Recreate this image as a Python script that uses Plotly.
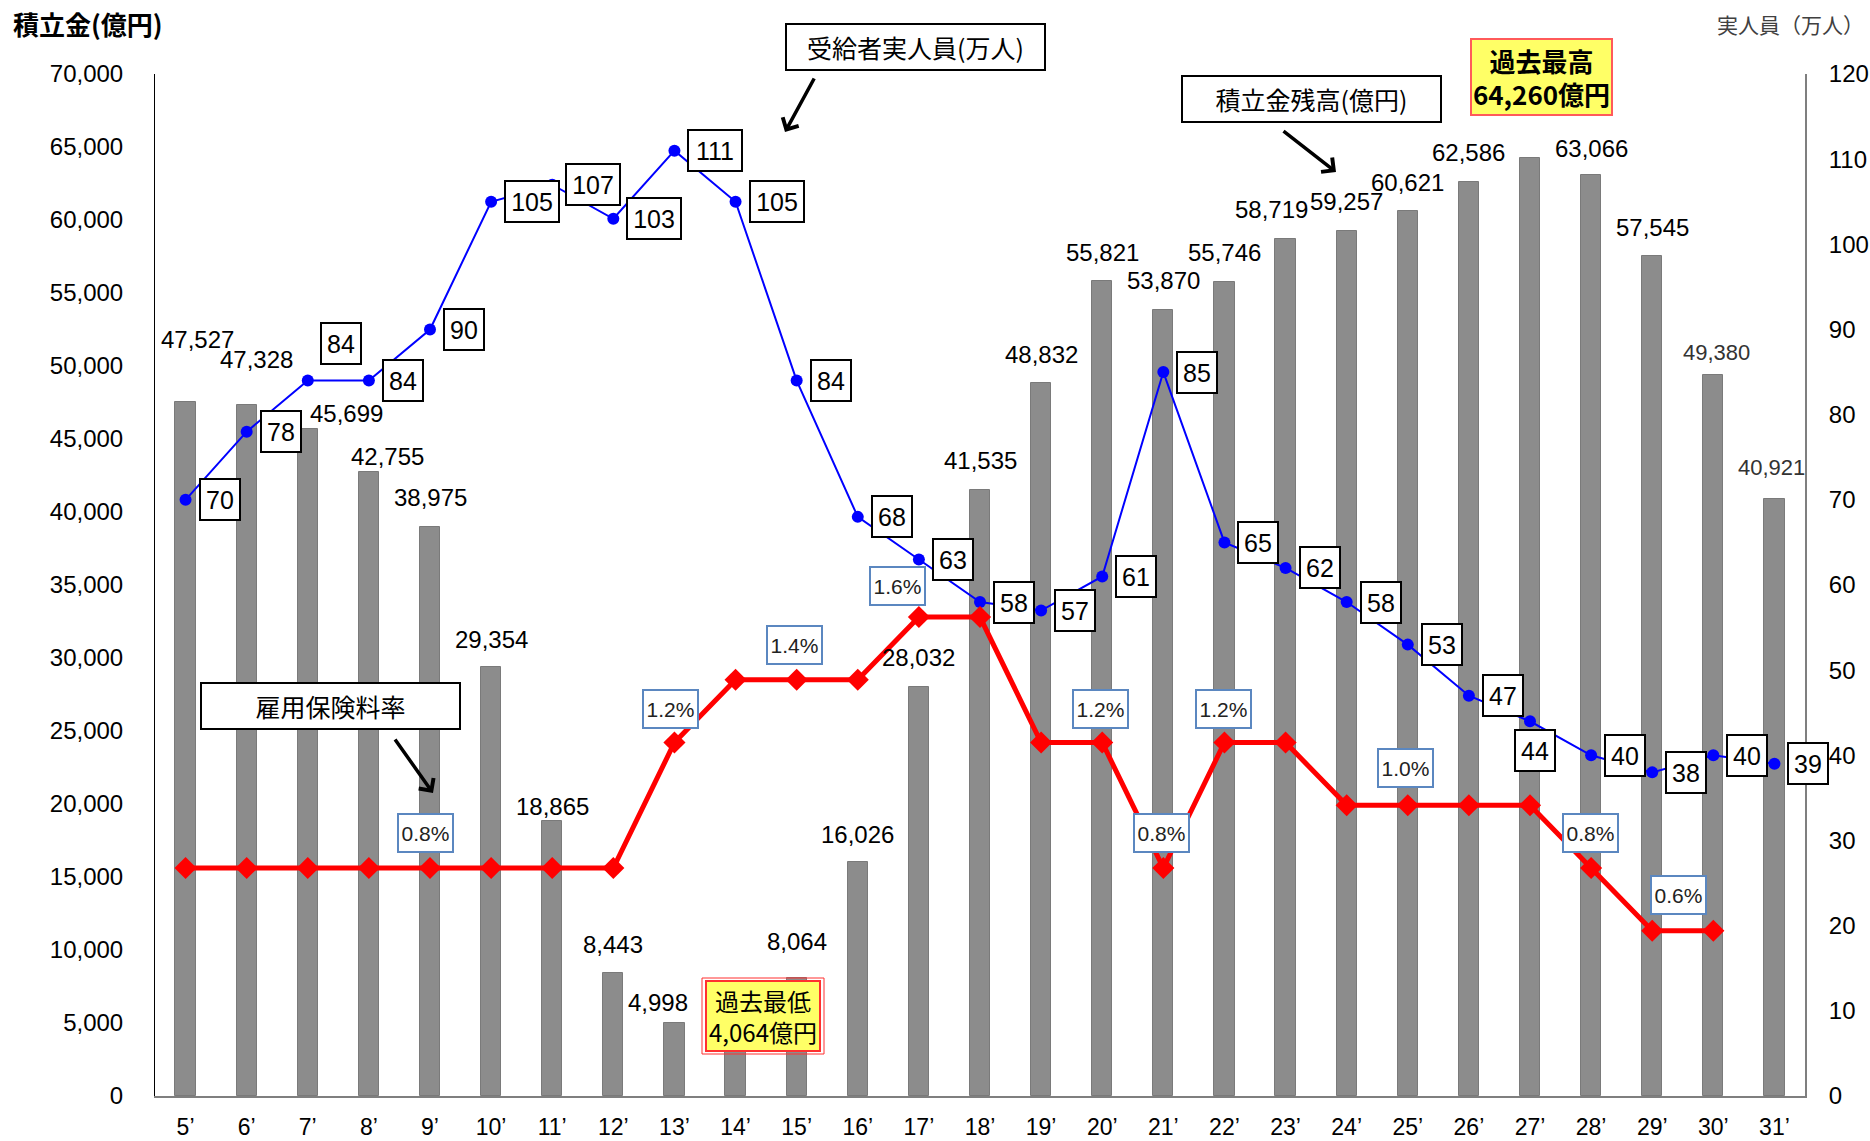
import plotly.graph_objects as go

# ---------------- data ----------------
years = ["5’", "6’", "7’", "8’", "9’", "10’", "11’", "12’", "13’", "14’", "15’", "16’", "17’",
         "18’", "19’", "20’", "21’", "22’", "23’", "24’", "25’", "26’", "27’", "28’", "29’", "30’", "31’"]
fund = [47527, 47328, 45699, 42755, 38975, 29354, 18865, 8443, 4998, 4064, 8064, 16026, 28032,
        41535, 48832, 55821, 53870, 55746, 58719, 59257, 60621, 62586, 64260, 63066, 57545, 49380, 40921]
recipients = [70, 78, 84, 84, 90, 105, 107, 103, 111, 105, 84, 68, 63, 58, 57, 61, 85, 65, 62,
              58, 53, 47, 44, 40, 38, 40, 39]
rate = [0.8, 0.8, 0.8, 0.8, 0.8, 0.8, 0.8, 0.8, 1.2, 1.4, 1.4, 1.4, 1.6, 1.6, 1.2, 1.2, 0.8,
        1.2, 1.2, 1.0, 1.0, 1.0, 1.0, 0.8, 0.6, 0.6, None]
rate_label_idx = [4, 8, 10, 12, 15, 16, 17, 20, 23, 24]

# ---------------- label placement (pixels) ----------------
bar_dx = [12, 10, 39, 19, 0, 0, 0, 0, -16, None, 0, 0, 0, 0, 0, 0, 0, 0, -14, 0, 0, 0, None, 0, 0, 3, -3]
bar_dy = [63, 46, 15, 15, 29, 28, 14, 28, 21, None, 37, 28, 29, 29, 29, 29, 29, 30, 29, 29, 28, 30, None, 27, 28, 23, 31]
light_labels = {25, 26}
blue_special = {2: (12, 37), 22: (-16, -29)}
rate_dx = [-5, -4, -2, -21, -2, -2, -1, -2, -1, 26]
rate_dy = [35, 34, 35, 31, 34, 35, 34, 37, 35, 36]

NUM = "Liberation Sans, Arial, sans-serif"
JP = "Noto Sans CJK JP, sans-serif"
W, H = 1870, 1141
PL, PR, PT, PB = 155, 1805, 74, 1096


def fx(p):
    return (p - PL) / (PR - PL)


def fy(p):
    return (PB - p) / (PB - PT)


fig = go.Figure()
fig.add_trace(go.Bar(x=years, y=fund, width=0.33,
                     marker=dict(color="#8c8c8c", line=dict(color="#7a7a7a", width=1)),
                     yaxis="y", hoverinfo="skip"))
fig.add_trace(go.Scatter(x=years, y=recipients, mode="lines+markers", yaxis="y2",
                         line=dict(color="#0000ff", width=2),
                         marker=dict(size=12, color="#0000ff")))
fig.add_trace(go.Scatter(x=years, y=rate, mode="lines+markers", yaxis="y3",
                         line=dict(color="#ff0000", width=5),
                         marker=dict(symbol="diamond", size=17, color="#ff0000")))

ann = []
# bar value labels
for i, v in enumerate(fund):
    if bar_dx[i] is None:
        continue
    light = i in light_labels
    ann.append(dict(x=years[i], y=v, xref="x", yref="y", text=f"{v:,}", showarrow=False,
                    xshift=bar_dx[i], yshift=bar_dy[i], xanchor="center", yanchor="middle",
                    font=dict(family=NUM, size=22 if light else 24,
                              color="#333333" if light else "#000000")))
# recipients boxes
for i, v in enumerate(recipients):
    dx, dy = blue_special.get(i, (13, 0))
    txt = str(v)
    ann.append(dict(x=years[i], y=v, xref="x", yref="y2", text=txt, showarrow=False,
                    xshift=dx, yshift=dy, xanchor="left", yanchor="middle",
                    width=36 if len(txt) == 2 else 50, height=37,
                    bgcolor="white", bordercolor="black", borderwidth=2, borderpad=1,
                    font=dict(family=NUM, size=25, color="black")))
# rate boxes
for k, i in enumerate(rate_label_idx):
    ann.append(dict(x=years[i], y=rate[i], xref="x", yref="y3", text=f"{rate[i]:.1f}%",
                    showarrow=False, xshift=rate_dx[k], yshift=rate_dy[k],
                    xanchor="center", yanchor="middle", width=51, height=34,
                    bgcolor="white", bordercolor="#5b87c0", borderwidth=2, borderpad=1,
                    font=dict(family="Liberation Sans Narrow, " + NUM, size=21, color="#222222")))


# callout boxes
def box(text, cx, cy, w, h, size=25, **kw):
    d = dict(x=fx(cx), y=fy(cy), xref="paper", yref="paper", text=text, showarrow=False,
             xanchor="center", yanchor="middle", width=w, height=h,
             bgcolor="white", bordercolor="black", borderwidth=2, borderpad=1,
             font=dict(family=JP, size=size, color="black"))
    d.update(kw)
    return d


ann.append(box("受給者実人員(万人)", 915, 47, 255, 42))
ann.append(box("積立金残高(億円)", 1311, 99, 255, 42))
ann.append(box("雇用保険料率", 330, 706, 255, 42))
ann.append(box("<b>過去最高<br>64,260億円</b>", 1541, 77, 137, 72, size=26,
               bgcolor="#ffff66", bordercolor="#ff5a5a"))
ann.append(box("過去最低<br>4,064億円", 763, 1016, 110, 66, size=24,
               bgcolor="#ffff66", bordercolor="#ff3030"))


# arrows
def arrow(hx, hy, tx, ty):
    return dict(x=fx(hx), y=fy(hy), xref="paper", yref="paper", text="", showarrow=True,
                ax=tx - hx, ay=ty - hy, arrowhead=4, arrowsize=1, arrowwidth=3.5,
                arrowcolor="black", standoff=0, startstandoff=0)


ann.append(arrow(785, 132, 815, 77))
ann.append(arrow(1336, 172, 1282, 130))
ann.append(arrow(433, 793, 394, 738))

# axis titles
ann.append(dict(x=fx(11), y=fy(23), xref="paper", yref="paper", text="<b>積立金(億円)</b>",
                showarrow=False, xanchor="left", yanchor="middle",
                font=dict(family=JP, size=26, color="black")))
ann.append(dict(x=fx(1866), y=fy(24), xref="paper", yref="paper", text="実人員（万人）",
                showarrow=False, xanchor="right", yanchor="middle",
                font=dict(family=JP, size=21, color="#404040")))

shapes = [dict(type="rect", xref="paper", yref="paper", x0=fx(702), x1=fx(824), y0=fy(978), y1=fy(1054),
               line=dict(color="#ff3030", width=1), fillcolor="rgba(0,0,0,0)", layer="above")]

fig.update_layout(
    width=W, height=H, margin=dict(l=PL, r=W - PR, t=PT, b=H - PB, autoexpand=False),
    paper_bgcolor="white", plot_bgcolor="white", showlegend=False, bargap=0,
    annotations=ann, shapes=shapes,
    xaxis=dict(type="category", range=[-0.5, 26.5], showline=True, linecolor="#7f7f7f", linewidth=2,
               ticks="", showgrid=False, zeroline=False, ticklabelstandoff=9, automargin=False,
               tickfont=dict(family=NUM, size=23, color="black")),
    yaxis=dict(range=[0, 70000], dtick=5000, tickformat=",", showline=True, linecolor="black",
               linewidth=1, ticks="", showgrid=False, zeroline=False, ticklabelstandoff=26,
               automargin=False, tickfont=dict(family=NUM, size=24, color="black")),
    yaxis2=dict(range=[0, 120], dtick=10, overlaying="y", side="right", showline=True,
                linecolor="#7f7f7f", linewidth=2, ticks="", showgrid=False, zeroline=False,
                ticklabelstandoff=17, automargin=False,
                tickfont=dict(family=NUM, size=24, color="black")),
    yaxis3=dict(range=[0.0733, 3.331], overlaying="y", visible=False, showgrid=False,
                zeroline=False, automargin=False),
)

fig.write_html("out.html")
